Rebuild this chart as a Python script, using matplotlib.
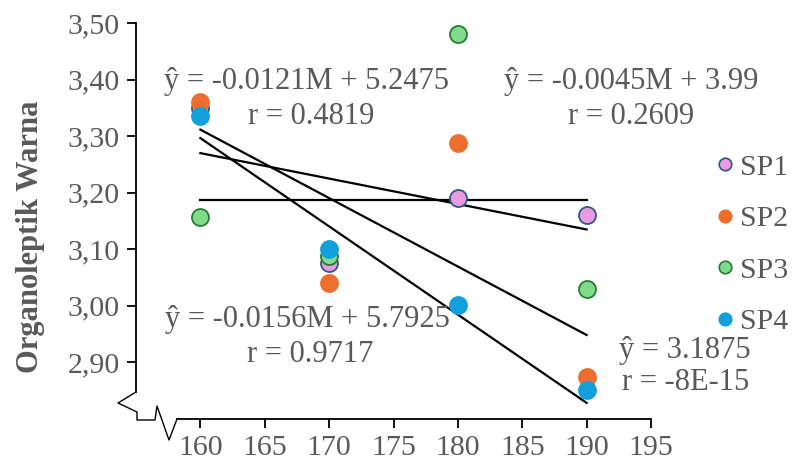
import matplotlib
matplotlib.use("Agg")
import matplotlib.pyplot as plt
from matplotlib.lines import Line2D
import numpy as np

# ---- data ----
x_vals = [160, 170, 180, 190]
sp1 = [3.350, 3.076, 3.191, 3.161]
sp2 = [3.360, 3.040, 3.288, 2.875]
sp3 = [3.1575, 3.0875, 3.480, 3.030]
sp4 = [3.335, 3.100, 3.002, 2.852]
series_names = ["SP1", "SP2", "SP3", "SP4"]

# trendlines (slope, intercept) as printed on chart
trend_slopes = [-0.0121, -0.0156, -0.0045, 0.0]
trend_intercepts = [5.2475, 5.7925, 3.99, 3.1875]
trend_x = [160, 190]

x_ticks = [160, 165, 170, 175, 180, 185, 190, 195]
y_ticks = [2.90, 3.00, 3.10, 3.20, 3.30, 3.40, 3.50]
y_tick_labels = ["2,90", "3,00", "3,10", "3,20", "3,30", "3,40", "3,50"]

ann_lines = [
    ("ŷ = -0.0121M + 5.2475", 306, 82), ("r = 0.4819", 311, 117),
    ("ŷ = -0.0045M + 3.99", 631, 82), ("r = 0.2609", 631, 117),
    ("ŷ = -0.0156M + 5.7925", 307, 320), ("r = 0.9717", 310, 355),
    ("ŷ = 3.1875", 685, 350), ("r = -8E-15", 686, 383),
]

W, H = 793, 473
SERIF = ["Liberation Serif", "DejaVu Serif"]
GRAY = "#595959"

fig = plt.figure(figsize=(W / 100, H / 100), dpi=100)
def fx(px): return px / W
def fy(py): return 1 - py / H

ax = fig.add_axes([fx(136), fy(419), fx(651) - fx(136), fy(23) - fy(419)])
ax.set_xlim(155, 195)
ax.set_ylim(2.80, 3.50)

# trendlines
for m, b in zip(trend_slopes, trend_intercepts):
    xs = np.array(trend_x, dtype=float)
    ax.plot(xs, m * xs + b, color="black", lw=1.6, zorder=2)

styles = [
    dict(color="#E99BE2", edgecolor="#2D5A86"),
    dict(color="#EE6F2D", edgecolor="#EE6F2D"),
    dict(color="#7FDC8B", edgecolor="#2A7A34"),
    dict(color="#12A0DA", edgecolor="#12A0DA"),
]
handles = []
for name, vals, st in zip(series_names, [sp1, sp2, sp3, sp4], styles):
    ax.scatter(x_vals, vals, s=150, color=st["color"], edgecolors=st["edgecolor"],
               linewidths=1.3, zorder=3, clip_on=False)
    handles.append(Line2D([], [], ls="none", marker="o", markersize=9,
                          markerfacecolor=st["color"], markeredgecolor=st["edgecolor"],
                          markeredgewidth=1.2, label=name))

ax.spines["top"].set_visible(False)
ax.spines["right"].set_visible(False)
for s in ("left", "bottom"):
    ax.spines[s].set_linewidth(1.3)
    ax.spines[s].set_color("black")
ax.spines["left"].set_bounds(2.848, 3.50)
ax.spines["bottom"].set_bounds(158.2, 195)

ax.set_xticks(x_ticks)
ax.set_xticklabels([str(t) for t in x_ticks])
ax.set_yticks(y_ticks)
ax.set_yticklabels(y_tick_labels)
ax.tick_params(direction="out", length=6.5, width=1.3, color="black",
               labelcolor=GRAY, labelsize=21.5, pad=5)
for lab in ax.get_xticklabels() + ax.get_yticklabels():
    lab.set_family(SERIF)

fig.text(fx(31), fy(237), "Organoleptik Warna", rotation=90, ha="center", va="center",
         fontsize=22, fontweight="bold", color=GRAY, family=SERIF)

# axis break zigzag
zz = [(136, 392), (118, 403), (137, 412), (137, 420), (155, 420),
      (157, 406), (169, 440), (177, 419)]
fig.add_artist(Line2D([fx(p[0]) for p in zz], [fy(p[1]) for p in zz],
                      color="black", lw=1.0, transform=fig.transFigure))

for txt, px, py in ann_lines:
    fig.text(fx(px), fy(py), txt, ha="center", va="center", fontsize=22,
             color=GRAY, family=SERIF)

fig.legend(handles=handles, loc="upper left", bbox_to_anchor=(fx(695), fy(139)),
           frameon=False, prop={"family": SERIF, "size": 21.5},
           labelspacing=0.82, handletextpad=0.0, handlelength=1.0,
           borderpad=0, labelcolor=GRAY)

fig.savefig("out.png", dpi=100)
